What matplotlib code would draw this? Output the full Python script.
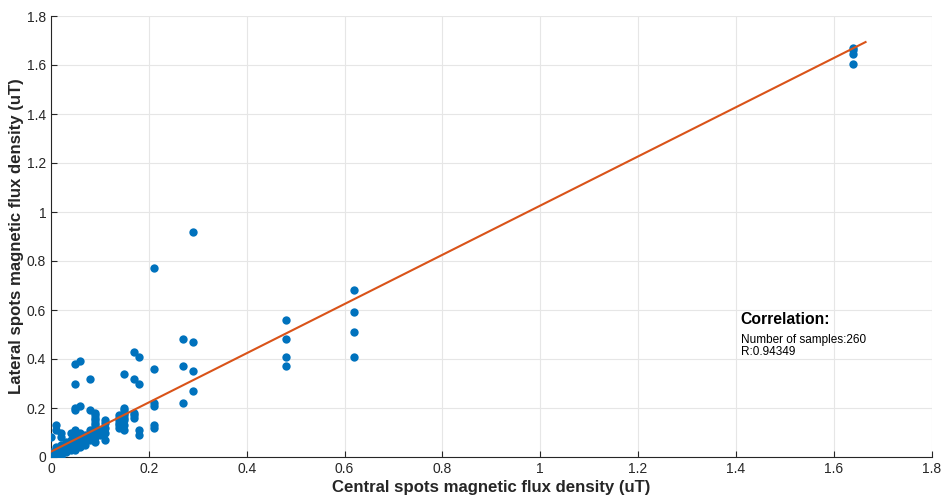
import matplotlib.pyplot as plt

plt.rcParams['font.family'] = ['Liberation Sans', 'DejaVu Sans']

# central spot value and lateral spot value, grouped by central value
central = [0.00] * 4 + [0.01] * 7 + [0.02] * 8 + [0.03] * 5 + [0.04] * 6 \
    + [0.05] * 13 + [0.06] * 9 + [0.07] * 5 + [0.08] * 7 + [0.09] * 11 \
    + [0.10] * 3 + [0.11] * 5 + [0.14] * 6 + [0.15] * 9 + [0.17] * 5 \
    + [0.18] * 4 + [0.21] * 6 + [0.27] * 3 + [0.29] * 4 + [0.48] * 4 \
    + [0.62] * 4 + [1.64] * 4
lateral = [0.00, 0.01, 0.02, 0.08,
           0.00, 0.01, 0.02, 0.03, 0.04, 0.11, 0.13,
           0.00, 0.01, 0.02, 0.03, 0.04, 0.05, 0.08, 0.10,
           0.02, 0.03, 0.04, 0.05, 0.06,
           0.03, 0.04, 0.05, 0.06, 0.07, 0.10,
           0.03, 0.04, 0.05, 0.06, 0.07, 0.08, 0.09, 0.10, 0.11, 0.19, 0.20, 0.30, 0.38,
           0.04, 0.05, 0.06, 0.07, 0.08, 0.09, 0.10, 0.21, 0.39,
           0.05, 0.06, 0.07, 0.08, 0.09,
           0.07, 0.08, 0.09, 0.10, 0.11, 0.19, 0.32,
           0.06, 0.08, 0.10, 0.11, 0.12, 0.13, 0.14, 0.15, 0.16, 0.17, 0.18,
           0.09, 0.10, 0.11,
           0.07, 0.10, 0.12, 0.14, 0.15,
           0.12, 0.13, 0.14, 0.15, 0.16, 0.17,
           0.11, 0.13, 0.15, 0.16, 0.17, 0.18, 0.19, 0.20, 0.34,
           0.16, 0.17, 0.18, 0.32, 0.43,
           0.09, 0.11, 0.30, 0.41,
           0.12, 0.13, 0.21, 0.22, 0.36, 0.77,
           0.22, 0.37, 0.48,
           0.27, 0.35, 0.47, 0.92,
           0.37, 0.41, 0.48, 0.56,
           0.41, 0.51, 0.59, 0.68,
           1.605, 1.645, 1.66, 1.67]

# linear fit shown in the figure
fit_slope = 1.004
fit_intercept = 0.022
fit_x = [0, 1.665]

n_samples = 260
r_value = 0.94349

fig = plt.figure(figsize=(9.41, 5.0), dpi=100)
ax = fig.add_axes([0.0542, 0.086, 0.9358, 0.882])

ax.scatter(central, lateral, s=36, color='#0072BD', zorder=3, linewidths=0)
ax.plot(fit_x, [fit_intercept + fit_slope * v for v in fit_x],
        color='#D95319', lw=1.5, zorder=4)

ax.set_xlim(0, 1.8)
ax.set_ylim(0, 1.8)
ticks = [0, 0.2, 0.4, 0.6, 0.8, 1, 1.2, 1.4, 1.6, 1.8]
labels = ['0', '0.2', '0.4', '0.6', '0.8', '1', '1.2', '1.4', '1.6', '1.8']
ax.set_xticks(ticks)
ax.set_xticklabels(labels)
ax.set_yticks(ticks)
ax.set_yticklabels(labels)
ax.tick_params(direction='in', length=4, labelsize=10, colors='#262626')
ax.grid(True, color='#e6e6e6', lw=0.8)
ax.set_axisbelow(True)
for side in ['top', 'right']:
    ax.spines[side].set_visible(False)
for side in ['left', 'bottom']:
    ax.spines[side].set_color('#262626')
    ax.spines[side].set_linewidth(0.8)

ax.set_xlabel('Central spots magnetic flux density (uT)', fontsize=12.1,
              fontweight='bold', color='#262626', labelpad=3)
ax.set_ylabel('Lateral spots magnetic flux density (uT)', fontsize=12.1,
              fontweight='bold', color='#262626', labelpad=2)

ax.text(1.41, 0.59, 'Correlation:', fontsize=11.3, fontweight='bold', va='top')
ax.text(1.41, 0.502, 'Number of samples:{}\nR:{}'.format(n_samples, r_value),
        fontsize=8.5, linespacing=0.95, va='top')

fig.savefig('out.png', dpi=100)
